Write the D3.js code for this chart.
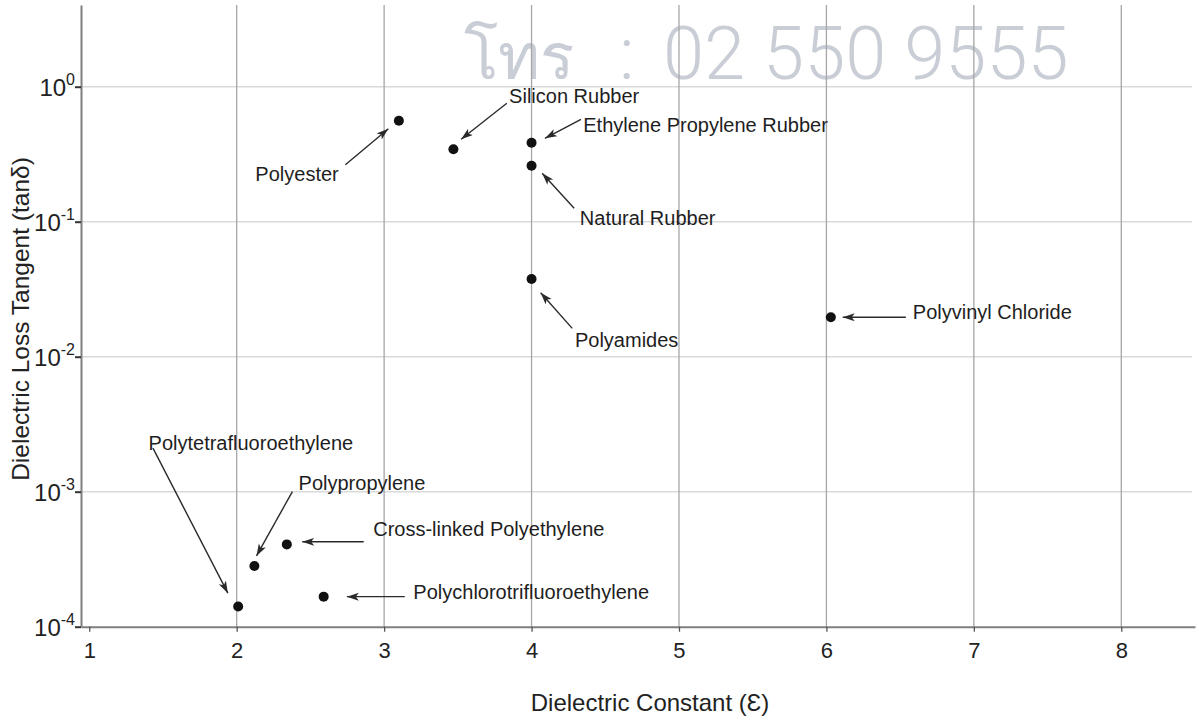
<!DOCTYPE html>
<html>
<head>
<meta charset="utf-8">
<script src="https://cdn.jsdelivr.net/npm/d3@7"></script>
<style>
  html, body { margin: 0; padding: 0; background: #fff; }
  svg { display: block; }
</style>
</head>
<body>
<svg id="chart" width="1199" height="720"></svg>
<script>
// ---- data ----
const materials = [
  "Polyester", "Silicon Rubber", "Ethylene Propylene Rubber", "Natural Rubber",
  "Polyamides", "Polyvinyl Chloride", "Polytetrafluoroethylene", "Polypropylene",
  "Cross-linked Polyethylene", "Polychlorotrifluoroethylene"
];
const dielectricConstant = [3.1, 3.47, 4.0, 4.0, 4.0, 6.03, 2.01, 2.12, 2.34, 2.59];
const lossTangent = [0.56, 0.344, 0.385, 0.26, 0.0376, 0.0196, 1.41e-4, 2.82e-4, 4.07e-4, 1.67e-4];
const xTickValues = [1, 2, 3, 4, 5, 6, 7, 8];
const yTickValues = [1e-4, 1e-3, 1e-2, 1e-1, 1];
const yTickExponents = ["-4", "-3", "-2", "-1", "0"];
const xTitle = "Dielectric Constant (Ɛ)";
const yTitle = "Dielectric Loss Tangent (tanδ)";
const watermarkParts = ["โทร", ":", "02 550 9555"];

// ---- annotation layout (pixel offsets from each point) ----
// [labelDx, labelDy, arrowFromDx, arrowFromDy, arrowToDx, arrowToDy]
const annotationLayout = [
  [-143.5, 53, -53.5, 44, -10.5, 8],
  [55.7, -53.3, 53.4, -46, 7.7, -10],
  [51.7, -17.7, 49.4, -23.4, 13.4, -4.4],
  [48.3, 52.6, 42.6, 42.6, 10.6, 7.6],
  [43.4, 61, 40.7, 49.3, 9.1, 13.7],
  [82, -5.6, 75, 0, 11.9, 0],
  [-89.6, -163.7, -85.2, -158.4, -10.3, -13.4],
  [44.2, -82.7, 38, -74.3, 2.1, -10],
  [86.4, -15.3, 76.9, -2.6, 15.4, -2.6],
  [89.7, -5, 81.1, 0, 23.2, 0]
];

const svg = d3.select("#chart");
const plotLeft = 81, plotRight = 1195, plotTop = 5, plotBottom = 626.7;

const x = d3.scaleLinear().domain([0.944, 8.5]).range([plotLeft, plotRight]);
const y = d3.scaleLog().domain([1e-4, 4.03]).range([plotBottom, plotTop]);

const font = "'Liberation Sans', Arial, Helvetica, sans-serif";

// watermark
const wm = svg.append("text")
  .attr("y", 79)
  .attr("font-family", "Roboto, 'Noto Sans', sans-serif")
  .attr("font-weight", 300)
  .attr("fill", "#c9cdd6");
wm.append("tspan").attr("x", 464).attr("font-size", 64).text(watermarkParts[0]);
wm.append("tspan").attr("x", 619).attr("font-size", 74).text(watermarkParts[1]);
wm.append("tspan").attr("x", 663).attr("font-size", 74).text(watermarkParts[2]);

// horizontal grid
svg.append("g").selectAll("line")
  .data(yTickValues.slice(1))
  .join("line")
  .attr("x1", plotLeft).attr("x2", 1192)
  .attr("y1", d => y(d)).attr("y2", d => y(d))
  .attr("stroke", "#d9d9d9").attr("stroke-width", 1.5);

// vertical grid
svg.append("g").selectAll("line")
  .data(xTickValues.slice(1))
  .join("line")
  .attr("x1", d => x(d)).attr("x2", d => x(d))
  .attr("y1", plotTop).attr("y2", plotBottom)
  .attr("stroke", "#a6a6a6").attr("stroke-width", 1.3);

// x axis
const xAxis = svg.append("g")
  .attr("transform", `translate(0,${plotBottom})`)
  .call(d3.axisBottom(x).tickValues(xTickValues).tickSize(5).tickSizeOuter(0).tickFormat(d3.format("d")));
xAxis.select(".domain").attr("stroke", "#7f7f7f").attr("stroke-width", 2);
xAxis.selectAll(".tick line").attr("stroke", "#555").attr("stroke-width", 1.3);
xAxis.selectAll(".tick text")
  .attr("font-family", font).attr("font-size", 22).attr("fill", "#222").attr("dy", "0.95em").attr("y", 10);

// y axis
const yAxis = svg.append("g")
  .attr("transform", `translate(${plotLeft},0)`)
  .call(d3.axisLeft(y).tickValues(yTickValues).tickSize(6).tickSizeOuter(0).tickFormat(""));
yAxis.select(".domain").attr("stroke", "#7f7f7f").attr("stroke-width", 2);
yAxis.selectAll(".tick line").attr("stroke", "#333").attr("stroke-width", 2);
yAxis.selectAll(".tick").each(function(d, i) {
  const t = d3.select(this).append("text")
    .attr("x", -6).attr("y", 0)
    .attr("text-anchor", "end")
    .attr("font-family", font).attr("fill", "#222")
    .attr("font-size", 24);
  t.append("tspan").attr("dy", "0.36em").text("10");
  t.append("tspan").attr("dy", "-0.7em").attr("font-size", 16).text(yTickExponents[i]);
});

// axis titles
svg.append("text")
  .attr("x", 650).attr("y", 702)
  .attr("text-anchor", "middle").attr("dominant-baseline", "central")
  .attr("font-family", font).attr("font-size", 24).attr("fill", "#222")
  .text(xTitle);
svg.append("text")
  .attr("transform", "translate(20,319) rotate(-90)")
  .attr("text-anchor", "middle").attr("dominant-baseline", "central")
  .attr("font-family", font).attr("font-size", 24.5).attr("fill", "#222")
  .text(yTitle);

// arrow marker
svg.append("defs").append("marker")
  .attr("id", "arrow")
  .attr("markerUnits", "userSpaceOnUse")
  .attr("markerWidth", 14).attr("markerHeight", 10)
  .attr("refX", 12).attr("refY", 4)
  .attr("orient", "auto")
  .append("path")
  .attr("d", "M0,0 L12,4 L0,8 L3,4 Z")
  .attr("fill", "#2a2a2a");

const points = materials.map((m, i) => ({
  name: m, ex: dielectricConstant[i], tan: lossTangent[i], layout: annotationLayout[i]
}));

// arrows
svg.append("g").selectAll("line")
  .data(points)
  .join("line")
  .attr("x1", d => x(d.ex) + d.layout[2])
  .attr("y1", d => y(d.tan) + d.layout[3])
  .attr("x2", d => x(d.ex) + d.layout[4])
  .attr("y2", d => y(d.tan) + d.layout[5])
  .attr("stroke", "#2a2a2a").attr("stroke-width", 1.4)
  .attr("marker-end", "url(#arrow)");

// labels
svg.append("g").selectAll("text")
  .data(points)
  .join("text")
  .attr("x", d => x(d.ex) + d.layout[0])
  .attr("y", d => y(d.tan) + d.layout[1])
  .attr("dominant-baseline", "central")
  .attr("font-family", font).attr("font-size", 20).attr("fill", "#1e1e1e")
  .text(d => d.name);

// points
svg.append("g").selectAll("circle")
  .data(points)
  .join("circle")
  .attr("cx", d => x(d.ex))
  .attr("cy", d => y(d.tan))
  .attr("r", 5)
  .attr("fill", "#111");
</script>
</body>
</html>
